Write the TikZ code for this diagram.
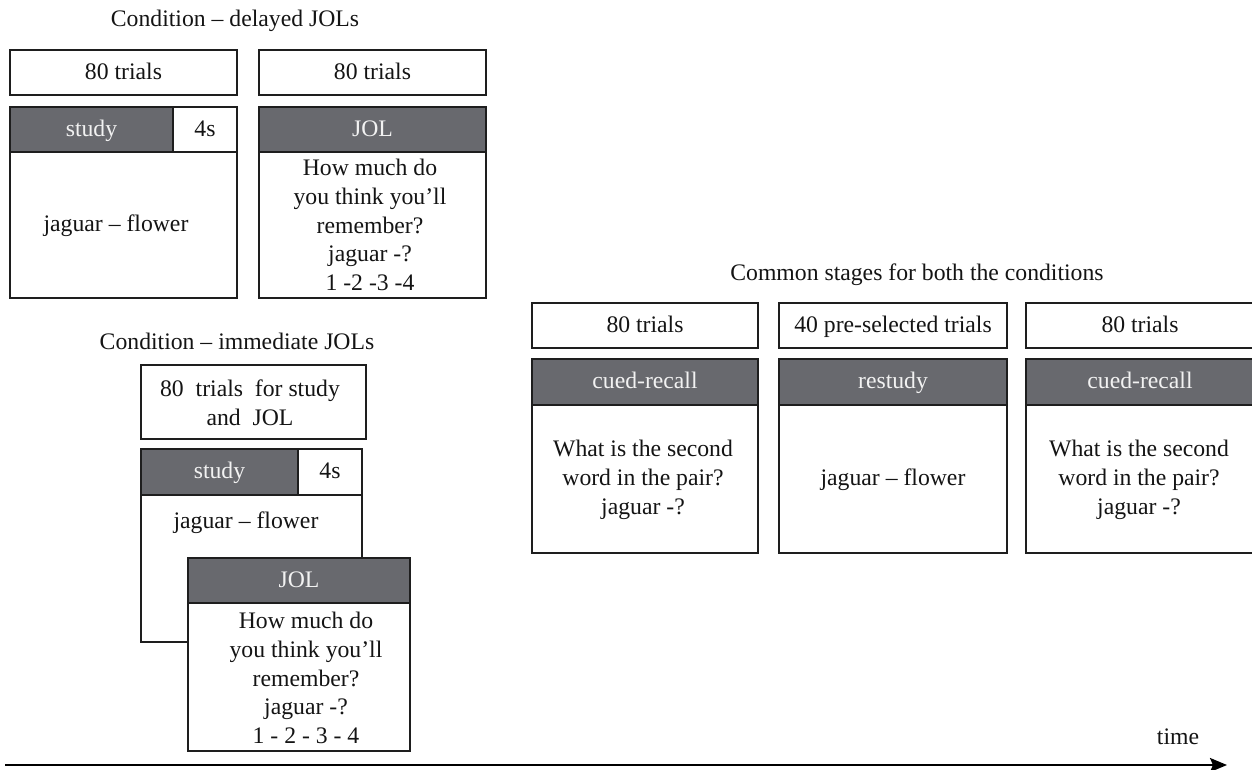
\documentclass[tikz,border=0pt]{standalone}
\usepackage{fontspec}
\setmainfont{Liberation Serif}
\usetikzlibrary{arrows.meta}
\definecolor{hdrgray}{RGB}{104,105,110}
\definecolor{edge}{RGB}{30,30,30}
\definecolor{ink}{RGB}{20,20,20}
\begin{document}
\begin{tikzpicture}[x=1pt,y=-1pt,
  every node/.style={font=\fontsize{23.7}{28.7}\selectfont, inner sep=0pt, outer sep=0pt, text=ink},
  one/.style={text height=17.5pt, text depth=4pt},
  box/.style={draw=edge, line width=1.4pt, fill=white, rectangle, one},
  hdr/.style={box, fill=hdrgray, text=white!95!black},
  txt/.style={align=center}]
\useasboundingbox (0,0) rectangle (1252,770);

% ---------- Condition: delayed JOLs ----------
\node[one] (t1) at (235,20) {Condition – delayed JOLs};
\node[box, minimum width=227pt, minimum height=45pt] (a1) at (123.5,72.5) {80 trials};
\node[box, minimum width=227pt, minimum height=45pt] (a2) at (372.5,72.5) {80 trials};

\node[box, minimum width=227pt, minimum height=191pt] (s1) at (123.5,202.5) {};
\node[hdr, minimum width=163pt, minimum height=45pt] (s1h) at (91.5,129.5) {study};
\node[box, minimum width=64pt, minimum height=45pt] (s1t) at (205,129.5) {4s};
\node[one] (s1x) at (116,225) {jaguar – flower};

\node[box, minimum width=227pt, minimum height=191pt] (j1) at (372.5,202.5) {};
\node[hdr, minimum width=227pt, minimum height=45pt] (j1h) at (372.5,129.5) {JOL};
\node[txt] (j1x) at (370,225) {How much do\\you think you’ll\\remember?\\jaguar -?\\1 -2 -3 -4};

% ---------- Condition: immediate JOLs ----------
\node[one] (t2) at (237,343) {Condition – immediate JOLs};
\node[box, minimum width=225pt, minimum height=74pt] (b2) at (253.5,402) {};
\node[txt] (b2x) at (250,403) {80\ \ trials\ \ for study\\and\ \ JOL};

\node[box, minimum width=221pt, minimum height=193pt] (s2) at (251.5,545.5) {};
\node[hdr, minimum width=157pt, minimum height=46pt] (s2h) at (219.5,472) {study};
\node[box, minimum width=64pt, minimum height=46pt] (s2t) at (330,472) {4s};
\node[one] (s2x) at (246,522) {jaguar – flower};

\node[box, minimum width=222pt, minimum height=193pt] (j2) at (299,654.5) {};
\node[hdr, minimum width=222pt, minimum height=45pt] (j2h) at (299,580.5) {JOL};
\node[txt] (j2x) at (306,678) {How much do\\you think you’ll\\remember?\\jaguar -?\\1 - 2 - 3 - 4};

% ---------- Common stages ----------
\node[one] (t3) at (917,274) {Common stages for both the conditions};
\node[box, minimum width=226pt, minimum height=45pt] (c1) at (645,325.5) {80 trials};
\node[box, minimum width=228pt, minimum height=45pt] (c2) at (893,325.5) {40 pre-selected trials};
\node[box, minimum width=228pt, minimum height=45pt] (c3) at (1140,325.5) {80 trials};

\node[box, minimum width=226pt, minimum height=194pt] (d1) at (645,456) {};
\node[hdr, minimum width=226pt, minimum height=46pt] (d1h) at (645,382) {cued-recall};
\node[txt] (d1x) at (643,480) {What is the second\\word in the pair?\\jaguar -?};

\node[box, minimum width=228pt, minimum height=194pt] (d2) at (893,456) {};
\node[hdr, minimum width=228pt, minimum height=46pt] (d2h) at (893,382) {restudy};
\node[one] (d2x) at (893,479) {jaguar – flower};

\node[box, minimum width=228pt, minimum height=194pt] (d3) at (1140,456) {};
\node[hdr, minimum width=228pt, minimum height=46pt] (d3h) at (1140,382) {cued-recall};
\node[txt] (d3x) at (1139,480) {What is the second\\word in the pair?\\jaguar -?};

% ---------- time axis ----------
\node[one] (tm) at (1178,738) {time};
\coordinate (as) at (5,765);
\coordinate (ae) at (1227,765);
\draw[draw=black, line width=2.4pt, -{Stealth[length=17pt,width=14pt,inset=3pt]}] (as) -- (ae);
\end{tikzpicture}
\end{document}
